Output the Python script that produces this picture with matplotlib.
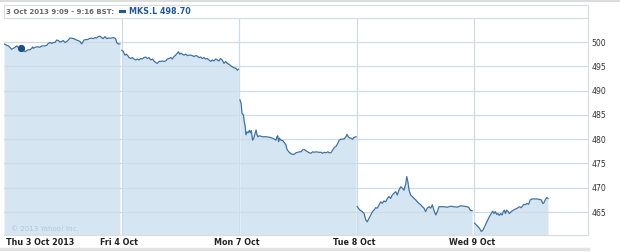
import matplotlib
matplotlib.use("Agg")
import matplotlib.pyplot as plt
from matplotlib.patches import Rectangle

# ---------------- data ----------------
day_labels = ["Thu 3 Oct 2013", "Fri 4 Oct", "Mon 7 Oct", "Tue 8 Oct", "Wed 9 Oct"]
session_minutes = 510  # 08:00 - 16:30

thu_min = [0, 9, 19, 26, 33, 40, 48, 55, 62, 66, 72, 81, 91, 98, 105, 113, 120, 125, 127, 135,
           142, 149, 156, 164, 171, 178, 185, 192, 200, 207, 214, 221, 229, 236, 243, 250, 257,
           265, 272, 279, 286, 294, 301, 308, 315, 322, 330, 337, 341, 347, 355, 362, 370, 379,
           388, 395, 402, 409, 417, 424, 431, 438, 446, 453, 460, 467, 474, 482, 486, 489, 496, 503]
thu_px = [499.6, 499.4, 499.2, 498.9, 498.5, 498.7, 498.9, 499.2, 498.9, 498.7, 498.7, 498.4,
          498.0, 498.2, 498.4, 498.4, 498.7, 499.0, 498.7, 498.9, 499.0, 499.0, 498.9, 499.2,
          499.2, 499.2, 499.3, 499.7, 499.9, 499.7, 499.9, 499.9, 500.4, 500.3, 500.0, 500.1,
          500.3, 499.9, 500.1, 500.4, 500.8, 500.8, 500.7, 500.6, 500.4, 500.3, 500.1, 499.6,
          499.9, 500.4, 500.5, 500.5, 500.7, 500.8, 500.7, 500.9, 500.8, 501.1, 501.2, 500.9,
          500.7, 501.1, 500.7, 500.8, 500.8, 500.8, 500.9, 500.8, 500.5, 499.9, 499.6, 499.6]

fri_min = [1, 7, 11, 15, 21, 27, 33, 40, 47, 54, 62, 69, 76, 83, 90, 98, 105, 112, 119, 127,
           134, 141, 148, 155, 163, 170, 177, 184, 192, 199, 206, 214, 220, 228, 235, 242, 247,
           253, 258, 264, 271, 279, 286, 293, 300, 307, 315, 322, 329, 336, 344, 351, 358, 365,
           372, 380, 387, 394, 401, 409, 416, 423, 430, 437, 445, 452, 459, 467, 474, 481, 488,
           496, 503, 507]
fri_px = [498.3, 498.1, 497.7, 497.3, 497.5, 497.2, 496.8, 496.6, 496.8, 496.5, 496.3, 496.5,
          496.3, 496.6, 496.5, 496.8, 496.9, 496.6, 496.8, 496.3, 496.5, 496.1, 495.8, 495.6,
          496.0, 496.0, 496.1, 496.0, 496.1, 496.5, 496.6, 496.8, 496.5, 497.0, 497.3, 497.7,
          498.0, 497.5, 497.7, 497.5, 497.3, 497.5, 497.2, 497.3, 497.3, 497.2, 497.0, 497.2,
          497.1, 496.8, 496.9, 496.6, 496.8, 496.5, 496.6, 496.3, 496.0, 496.3, 496.1, 496.5,
          496.3, 496.1, 496.6, 496.3, 495.6, 496.0, 495.6, 495.4, 495.1, 494.9, 494.7, 494.6,
          494.2, 494.4]

mon_min = [4, 9, 13, 19, 23, 27, 30, 35, 39, 45, 49, 53, 59, 64, 68, 74, 78, 82, 88, 103, 117,
           132, 146, 153, 161, 164, 168, 172, 175, 182, 190, 197, 204, 208, 216, 223, 230, 240,
           247, 255, 262, 269, 276, 283, 291, 298, 305, 312, 320, 327, 334, 348, 356, 363, 370,
           378, 385, 392, 399, 407, 414, 421, 428, 435, 443, 450, 457, 464, 469, 474, 479, 486,
           493, 500, 508]
mon_px = [488.1, 487.4, 485.3, 485.0, 483.6, 482.6, 480.9, 481.5, 481.3, 481.8, 481.3, 481.8,
          479.8, 480.2, 480.9, 481.9, 480.9, 480.5, 480.7, 480.5, 480.5, 480.4, 480.2, 480.0,
          479.8, 480.5, 480.7, 479.5, 480.2, 479.8, 479.7, 479.3, 478.8, 477.9, 477.4, 477.1,
          476.9, 476.9, 477.2, 477.3, 477.4, 477.4, 477.8, 477.9, 477.6, 477.4, 477.2, 477.1,
          477.4, 477.3, 477.4, 477.3, 477.3, 477.1, 477.3, 477.2, 477.4, 477.2, 477.2, 477.8,
          478.3, 478.5, 479.1, 479.8, 480.0, 480.0, 480.1, 480.5, 481.0, 480.5, 480.3, 480.2,
          480.0, 480.4, 480.5]

tue_min = [3, 15, 25, 33, 40, 47, 54, 62, 69, 76, 83, 90, 98, 105, 112, 119, 127, 134, 141,
           148, 155, 163, 170, 177, 184, 192, 199, 206, 214, 218, 223, 228, 235, 242, 250, 257,
           264, 271, 279, 286, 293, 300, 307, 315, 322, 329, 336, 344, 351, 358, 365, 380, 394,
           409, 423, 437, 452, 467, 481, 488, 495, 502]
tue_px = [466.1, 465.4, 465.1, 464.7, 463.4, 463.0, 463.7, 464.4, 465.1, 465.4, 465.9, 465.8,
          466.5, 467.1, 466.8, 467.3, 467.1, 467.8, 468.2, 467.8, 468.5, 468.9, 469.2, 468.5,
          469.5, 470.2, 469.9, 469.5, 470.9, 472.3, 471.2, 469.5, 468.5, 468.2, 467.8, 467.5,
          467.1, 466.8, 466.5, 466.1, 465.8, 465.1, 465.8, 466.1, 465.8, 466.5, 465.4, 464.4,
          465.1, 466.1, 466.1, 466.1, 466.0, 466.2, 466.1, 466.0, 466.3, 466.2, 466.1, 465.9,
          465.3, 465.3]

wed_min = [3, 13, 23, 32, 39, 46, 56, 66, 75, 81, 87, 92, 99, 104, 110, 116, 122, 127, 132,
           136, 142, 148, 153, 162, 171, 179, 188, 197, 205, 211, 217, 223, 230, 237, 244, 252,
           263, 273, 283, 292, 298, 302, 309, 316, 321]
wed_px = [462.7, 462.2, 461.7, 461.0, 461.3, 462.0, 463.0, 464.0, 464.7, 465.2, 464.7, 465.1,
          464.5, 464.7, 464.3, 464.7, 464.4, 465.1, 465.4, 464.7, 465.4, 465.1, 464.7, 465.1,
          465.4, 465.6, 465.8, 466.1, 465.9, 466.3, 466.6, 466.5, 466.8, 466.6, 467.5, 467.7,
          467.7, 467.7, 467.6, 467.5, 466.8, 466.8, 467.5, 468.0, 467.8]

days_min = [thu_min, fri_min, mon_min, tue_min, wed_min]
days_px = [thu_px, fri_px, mon_px, tue_px, wed_px]

y_ticks = [465, 470, 475, 480, 485, 490, 495, 500]
marker_min, marker_px = 72, 498.70
header_left = "3 Oct 2013 9:09 - 9:16 BST:"
header_right = "MKS.L 498.70"
copyright_txt = "\u00a9 2013 Yahoo! Inc."

# ---------------- style ----------------
W, H = 620, 252
line_c = "#3f72a3"
fill_c = "#d5e5f1"
grid_c = "#cfdbe7"
frame_c = "#d9dee4"

fig = plt.figure(figsize=(W / 100, H / 100), dpi=100)
fig.patch.set_facecolor("white")

x0, x1 = 4, 588
ytop, ybot = 18, 235
ax = fig.add_axes([x0 / W, 1 - ybot / H, (x1 - x0) / W, (ybot - ytop) / H])
ax.set_xlim(0, 4.97)
ax.set_ylim(460.28, 504.94)

for y in y_ticks:
    ax.axhline(y, color=grid_c, lw=0.9, zorder=2.5)
for d in range(1, 5):
    ax.axvline(d, color=grid_c, lw=0.9, zorder=2.5)

for d, (mins, vals) in enumerate(zip(days_min, days_px)):
    xs = [d + m / session_minutes for m in mins]
    ax.fill_between(xs, vals, 460.28, color=fill_c, lw=0, zorder=2)
    ax.plot(xs, vals, color=line_c, lw=0.9, zorder=3)

ax.plot([marker_min / session_minutes], [marker_px], "o", color="#1d4f82", ms=4.2, zorder=4)

for s in ["left", "top"]:
    ax.spines[s].set_visible(False)
for s in ["right", "bottom"]:
    ax.spines[s].set_color(frame_c)
    ax.spines[s].set_linewidth(0.9)

ax.set_yticks(y_ticks)
ax.yaxis.tick_right()
ax.tick_params(axis="y", length=0, pad=2.5, labelsize=5.6, labelcolor="#333333")
ax.set_xticks([])

ax.text(0.012, 0.015, copyright_txt, transform=ax.transAxes, fontsize=5,
        color="#b4c8d8", ha="left", va="bottom", zorder=5)

# x labels
for d, lab in enumerate(day_labels):
    if d == 0:
        ax.text(0.02, -0.016, lab, transform=ax.get_xaxis_transform(), ha="left", va="top",
                fontsize=5.8, fontweight="bold", color="#222222")
    else:
        ax.text(d - 0.02, -0.016, lab, transform=ax.get_xaxis_transform(), ha="center", va="top",
                fontsize=5.8, fontweight="bold", color="#222222")

# header
fig.add_artist(Rectangle((x0 / W, 1 - ytop / H), (x1 - x0) / W, 13 / H,
                         transform=fig.transFigure, fill=False, edgecolor=frame_c, lw=0.9))
fig.text(6 / W, 1 - 11.5 / H, header_left, fontsize=5.0, fontweight="bold",
         color="#666666", ha="left", va="center")
fig.add_artist(Rectangle((119 / W, 1 - 13 / H), 7 / W, 3 / H, transform=fig.transFigure,
                         facecolor="#1f5a96", edgecolor="none"))
fig.text(129 / W, 1 - 11.5 / H, header_right, fontsize=5.8, fontweight="bold",
         color="#1f5a96", ha="left", va="center")

# outer gray lines
fig.add_artist(plt.Line2D([0, 1], [1 - 1 / H, 1 - 1 / H], transform=fig.transFigure,
                          color="#dcdcdc", lw=1.5))
fig.add_artist(plt.Line2D([0, x1 / W], [1 - 249 / H, 1 - 249 / H], transform=fig.transFigure,
                          color="#e3e3e3", lw=2.5))

fig.savefig("out.png", dpi=100, facecolor="white")
